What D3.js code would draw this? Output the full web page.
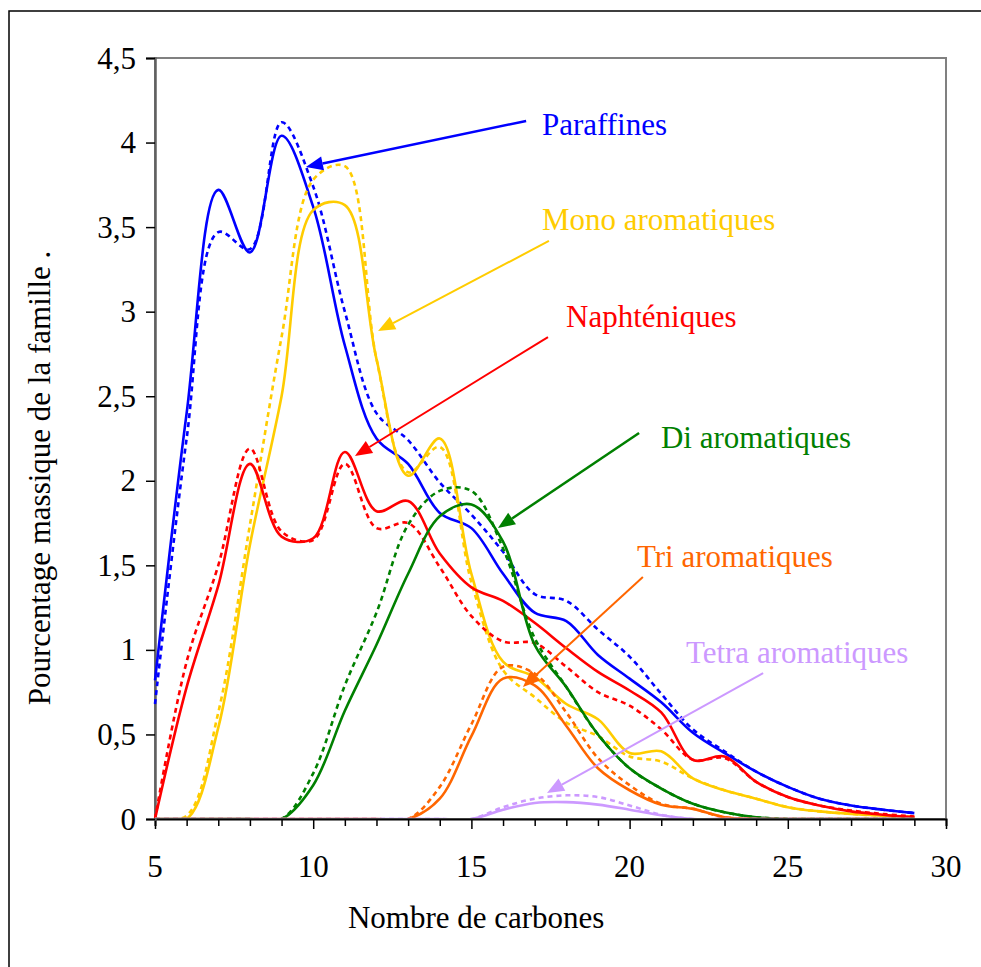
<!DOCTYPE html>
<html lang="fr">

<head>
    <meta charset="utf-8">
    <script src="https://d3js.org/d3.v7.min.js"></script>
    <style>
        body { margin: 0; background: #fff; }
        text { font-family: "Liberation Serif", "Times New Roman", serif; }
    </style>
</head>

<body>
    <div id="my_dataviz"></div>
</body>

<script>
    // carbon numbers on the x axis
    const carbones = d3.range(5, 30);

    // Paraffines
    const paraSolid = [0.82, 2.4, 3.72, 3.35, 4.04, 3.62, 2.8, 2.25, 2.1, 1.81, 1.72, 1.45, 1.22, 1.17, 0.97, 0.83, 0.69, 0.51, 0.39, 0.28, 0.19, 0.12, 0.08, 0.055, 0.035];
    const paraDash = [0.68, 2.25, 3.47, 3.37, 4.12, 3.74, 3.0, 2.4, 2.24, 1.99, 1.8, 1.58, 1.33, 1.29, 1.12, 0.96, 0.74, 0.53, 0.40, 0.28, 0.19, 0.12, 0.08, 0.055, 0.035];
    // Mono aromatiques
    const monoSolid = [0, 0, 0.54, 1.62, 2.5, 3.6, 3.63, 2.72, 2.03, 2.25, 1.45, 0.93, 0.84, 0.68, 0.59, 0.39, 0.40, 0.24, 0.17, 0.12, 0.07, 0.045, 0.03, 0.02, 0.012];
    const monoDash = [0, 0.02, 0.63, 1.74, 2.85, 3.78, 3.86, 2.72, 2.05, 2.2, 1.40, 0.88, 0.72, 0.57, 0.49, 0.37, 0.34, 0.24, 0.17, 0.12, 0.07, 0.045, 0.03, 0.02, 0.012];
    // Naphténiques
    const naphSolid = [0, 0.78, 1.38, 2.10, 1.67, 1.66, 2.17, 1.82, 1.88, 1.57, 1.37, 1.29, 1.16, 1.01, 0.87, 0.76, 0.63, 0.35, 0.37, 0.22, 0.13, 0.08, 0.045, 0.025, 0.01];
    const naphDash = [0, 0.93, 1.50, 2.19, 1.70, 1.65, 2.10, 1.72, 1.75, 1.49, 1.20, 1.05, 1.04, 0.90, 0.75, 0.67, 0.53, 0.35, 0.36, 0.22, 0.13, 0.08, 0.05, 0.03, 0.015];
    // Di aromatiques
    const diSolid = [0, 0, 0, 0, 0, 0.2, 0.64, 1.03, 1.45, 1.79, 1.86, 1.64, 1.03, 0.78, 0.50, 0.30, 0.18, 0.09, 0.04, 0.01, 0, 0, 0, 0, 0];
    const diDash = [0, 0, 0, 0, 0, 0.27, 0.79, 1.22, 1.74, 1.94, 1.94, 1.60, 1.07, 0.78, 0.50, 0.30, 0.18, 0.09, 0.04, 0.01, 0, 0, 0, 0, 0];
    // Tri aromatiques
    const triSolid = [0, 0, 0, 0, 0, 0, 0, 0, 0, 0.12, 0.49, 0.83, 0.79, 0.55, 0.30, 0.17, 0.085, 0.06, 0.01, 0, 0, 0, 0, 0, 0];
    const triDash = [0, 0, 0, 0, 0, 0, 0, 0, 0, 0.19, 0.56, 0.90, 0.86, 0.63, 0.36, 0.20, 0.09, 0.06, 0.01, 0, 0, 0, 0, 0, 0];
    // Tetra aromatiques
    const tetraSolid = [0, 0, 0, 0, 0, 0, 0, 0, 0, 0, 0, 0.055, 0.095, 0.10, 0.085, 0.055, 0.022, 0, 0, 0, 0, 0, 0, 0, 0];
    const tetraDash = [0, 0, 0, 0, 0, 0, 0, 0, 0, 0, 0, 0.07, 0.12, 0.14, 0.13, 0.08, 0.025, 0, 0, 0, 0, 0, 0, 0, 0];

    const familles = ["Paraffines", "Mono aromatiques", "Naphténiques", "Di aromatiques", "Tri aromatiques", "Tetra aromatiques"];
    const couleurs = ["#0000FF", "#FFCC00", "#FF0000", "#008000", "#FF6600", "#CC99FF"];
    const solides = [paraSolid, monoSolid, naphSolid, diSolid, triSolid, tetraSolid];
    const pointilles = [paraDash, monoDash, naphDash, diDash, triDash, tetraDash];

    // annotation label + arrow (data units): [label x, label y, arrow from x, from y, to x, to y]
    const annotations = [
        [17.23, 4.045, 16.73, 4.128, 9.77, 3.856],
        [17.23, 3.483, 17.45, 3.418, 12.05, 2.886],
        [17.99, 2.909, 17.42, 2.850, 11.32, 2.147],
        [20.99, 2.194, 20.30, 2.283, 15.84, 1.721],
        [20.23, 1.490, 20.42, 1.431, 16.63, 0.781],
        [21.78, 0.923, 24.22, 0.863, 17.39, 0.154]
    ];

    const yTicks = [0, 0.5, 1, 1.5, 2, 2.5, 3, 3.5, 4, 4.5];
    const xTicks = [5, 10, 15, 20, 25, 30];

    const margin = { top: 58, right: 35, bottom: 148, left: 155 },
        width = 791,
        height = 761;

    const root = d3.select("#my_dataviz")
        .append("svg")
        .attr("width", 981)
        .attr("height", 967);

    // outer frame
    root.append("rect")
        .attr("x", 9).attr("y", 11)
        .attr("width", 1000).attr("height", 1000)
        .attr("fill", "none")
        .attr("stroke", "#000")
        .attr("stroke-width", 1.5);

    const svg = root.append("g")
        .attr("transform", `translate(${margin.left},${margin.top})`);

    const x = d3.scaleLinear().domain([5, 30]).range([0, width]);
    const y = d3.scaleLinear().domain([0, 4.5]).range([height, 0]);

    // plot area border
    svg.append("rect")
        .attr("width", width)
        .attr("height", height)
        .attr("fill", "none")
        .attr("stroke", "#808080")
        .attr("stroke-width", 2);

    svg.append("defs").append("clipPath").attr("id", "clip")
        .append("rect").attr("x", -2).attr("y", -2).attr("width", width + 4).attr("height", height + 1);

    // X axis
    const xAxis = svg.append("g")
        .attr("transform", `translate(0, ${height})`)
        .call(d3.axisBottom(x).tickValues(d3.range(5, 31)).tickSize(7).tickFormat(""));
    xAxis.select(".domain").attr("stroke", "#000").attr("stroke-width", 2);
    xAxis.selectAll(".tick line").attr("stroke", "#000").attr("stroke-width", 1.5)
        .attr("y2", d => d % 5 === 0 ? 10 : 7);

    svg.append("g")
        .attr("transform", `translate(0, ${height})`)
        .selectAll("text")
        .data(xTicks)
        .join("text")
        .attr("x", d => x(d))
        .attr("y", 58)
        .attr("text-anchor", "middle")
        .style("font-size", "31px")
        .text(d => d);

    // Y axis
    const yAxis = svg.append("g")
        .call(d3.axisLeft(y).tickValues(yTicks).tickSize(9).tickFormat(""));
    yAxis.select(".domain").attr("stroke", "#606060").attr("stroke-width", 2.5);
    yAxis.selectAll(".tick line").attr("stroke", "#000").attr("stroke-width", 1.5);

    svg.append("g")
        .selectAll("text")
        .data(yTicks)
        .join("text")
        .attr("x", -19)
        .attr("y", d => y(d))
        .attr("dy", "0.34em")
        .attr("text-anchor", "end")
        .style("font-size", "31px")
        .text(d => String(d).replace(".", ","));

    // axis titles
    svg.append("text")
        .attr("x", x(15.15))
        .attr("y", height + 109)
        .attr("text-anchor", "middle")
        .style("font-size", "31px")
        .text("Nombre de carbones");

    svg.append("text")
        .attr("transform", `translate(-105, ${420}) rotate(-90)`)
        .attr("text-anchor", "middle")
        .style("font-size", "31px")
        .text("Pourcentage massique de la famille .");

    // curves
    const line = d3.line()
        .x((d, i) => x(carbones[i]))
        .y(d => y(d))
        .curve(d3.curveCatmullRom.alpha(0.5));

    const courbes = svg.append("g").attr("clip-path", "url(#clip)");
    familles.forEach((f, k) => {
        courbes.append("path")
            .datum(pointilles[k])
            .attr("d", line)
            .attr("fill", "none")
            .attr("stroke", couleurs[k])
            .attr("stroke-width", 2.6)
            .attr("stroke-dasharray", "5,4");
        courbes.append("path")
            .datum(solides[k])
            .attr("d", line)
            .attr("fill", "none")
            .attr("stroke", couleurs[k])
            .attr("stroke-width", 2.6);
    });

    // labels and arrows
    annotations.forEach((a, k) => {
        const x1 = x(a[2]), y1 = y(a[3]), x2 = x(a[4]), y2 = y(a[5]);
        const ang = Math.atan2(y2 - y1, x2 - x1);
        const len = 17, half = 7;
        const bx = x2 - len * Math.cos(ang), by = y2 - len * Math.sin(ang);
        svg.append("line")
            .attr("x1", x1).attr("y1", y1)
            .attr("x2", bx).attr("y2", by)
            .attr("stroke", couleurs[k])
            .attr("stroke-width", k === 0 || k === 3 ? 2.5 : 2);
        svg.append("path")
            .attr("d", `M${x2},${y2}L${bx + half * Math.sin(ang)},${by - half * Math.cos(ang)}L${bx - half * Math.sin(ang)},${by + half * Math.cos(ang)}Z`)
            .attr("fill", couleurs[k]);
        svg.append("text")
            .attr("x", x(a[0]))
            .attr("y", y(a[1]))
            .attr("fill", couleurs[k])
            .style("font-size", "31px")
            .text(familles[k]);
    });
</script>

</html>
